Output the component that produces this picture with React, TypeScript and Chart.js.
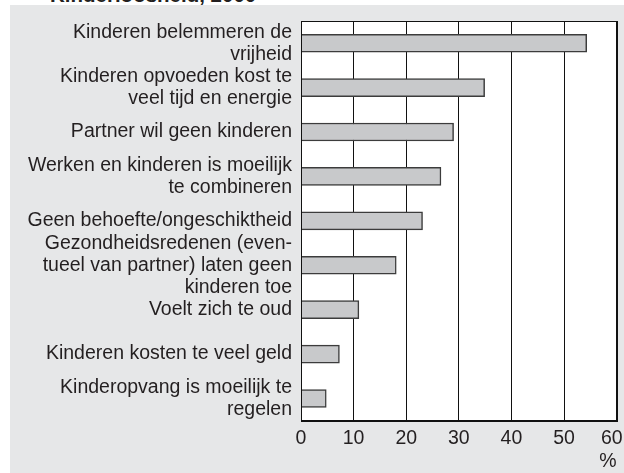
import React, { useEffect, useRef } from "react";
import { Chart, registerables } from "chart.js";

Chart.register(...registerables);

const titleText = "Kinderloosheid, 2000";
const categories: (string | string[])[] = [
  ["Kinderen belemmeren de", "vrijheid"],
  ["Kinderen opvoeden kost te", "veel tijd en energie"],
  "Partner wil geen kinderen",
  ["Werken en kinderen is moeilijk", "te combineren"],
  "Geen behoefte/ongeschiktheid",
  ["Gezondheidsredenen (even-", "tueel van partner) laten geen", "kinderen toe"],
  "Voelt zich te oud",
  "Kinderen kosten te veel geld",
  ["Kinderopvang is moeilijk te", "regelen"],
];
const values = [54.3, 34.9, 29.0, 26.6, 23.1, 18.1, 11.0, 7.3, 4.8];
const xTicks = [0, 10, 20, 30, 40, 50, 60];
const xUnit = "%";

const FONT = "'Liberation Sans', Arial, sans-serif";
const TEXT = "#231f20";

const plotFrame = {
  id: "plotFrame",
  beforeDraw(chart: any) {
    const { ctx, chartArea: a } = chart;
    ctx.save();
    ctx.fillStyle = "#ffffff";
    ctx.fillRect(a.left, a.top, a.right - a.left, a.bottom - a.top);
    ctx.restore();
  },
  afterDraw(chart: any) {
    const { ctx, chartArea: a } = chart;
    ctx.save();
    ctx.strokeStyle = "#111";
    ctx.lineWidth = 1;
    ctx.strokeRect(Math.round(a.left) + 0.5, Math.round(a.top) + 0.5, Math.round(a.right - a.left), Math.round(a.bottom - a.top));
    ctx.restore();
  },
};

export default function App() {
  const ref = useRef<HTMLCanvasElement>(null);
  useEffect(() => {
    if (!ref.current) return;
    const chart = new Chart(ref.current, {
      type: "bar",
      data: {
        labels: categories,
        datasets: [
          {
            data: values,
            backgroundColor: "#c8c9cb",
            borderColor: "#3c3c3c",
            borderWidth: 1.5,
            barThickness: 18,
          },
        ],
      },
      options: {
        indexAxis: "y",
        responsive: false,
        animation: false,
        devicePixelRatio: 1,
        layout: { padding: { left: 0, right: 7.3, top: 16, bottom: 0 } },
        plugins: { legend: { display: false }, tooltip: { enabled: false } },
        scales: {
          x: {
            min: 0,
            max: 60,
            afterBuildTicks: (s: any) => {
              s.ticks = xTicks.map((v) => ({ value: v }));
            },
            afterFit: (s: any) => {
              s.paddingLeft = 0;
              s.paddingRight = 0;
              s.height = 52.3;
            },
            grid: { color: "#111", lineWidth: 1, drawTicks: false },
            border: { color: "#111", width: 1 },
            ticks: {
              color: TEXT,
              font: { family: FONT, size: 19.5 },
              padding: 6,
              maxRotation: 0,
              callback: (v: any) => (v === 60 ? "60\u2002" : String(v)),
            },
            title: {
              display: true,
              text: xUnit,
              align: "end",
              color: TEXT,
              font: { family: FONT, size: 19.5 },
              padding: { top: 0, bottom: 0 },
            },
          },
          y: {
            grid: { display: false, drawTicks: false },
            border: { color: "#111", width: 1 },
            afterFit: (s: any) => {
              s.width = 291;
              s.paddingTop = 0;
              s.paddingBottom = 0;
            },
            ticks: {
              color: TEXT,
              font: { family: FONT, size: 19.5, lineHeight: 1.13 },
              padding: 9,
              autoSkip: false,
            },
          },
        },
      },
      plugins: [plotFrame],
    });
    return () => chart.destroy();
  }, []);

  return (
    <div style={{ position: "fixed", left: 0, top: 0, width: 624, height: 473, background: "#fff", overflow: "hidden" }}>
      <div
        style={{
          position: "absolute",
          left: 50,
          top: -15,
          fontFamily: FONT,
          fontWeight: "bold",
          fontSize: 20.5,
          lineHeight: 1,
          color: TEXT,
          whiteSpace: "nowrap",
        }}
      >
        {titleText}
      </div>
      <div style={{ position: "absolute", left: 10, top: 5, width: 614, height: 468, background: "#e6e7e8", overflow: "hidden" }}>
        <canvas ref={ref} width={614} height={468} style={{ display: "block" }} />
      </div>
    </div>
  );
}
